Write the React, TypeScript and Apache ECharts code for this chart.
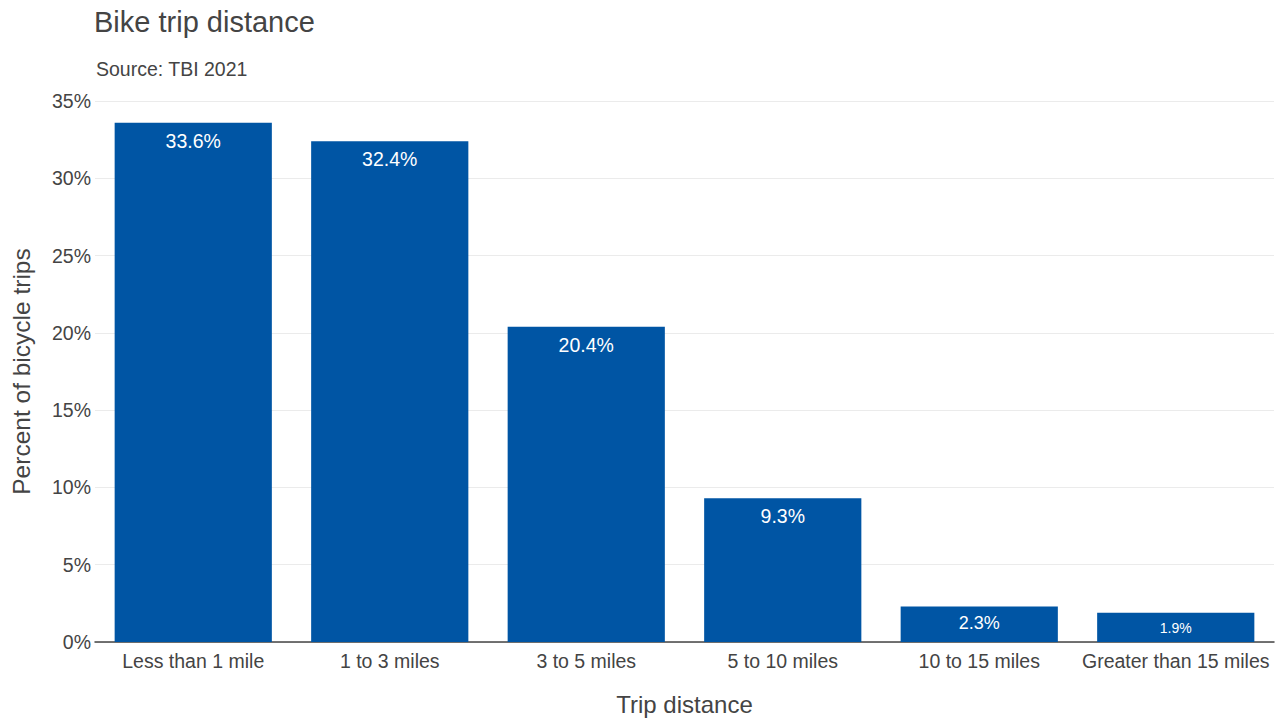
import React, { useEffect, useRef } from "react";
import * as echarts from "echarts";

const categories = [
  "Less than 1 mile",
  "1 to 3 miles",
  "3 to 5 miles",
  "5 to 10 miles",
  "10 to 15 miles",
  "Greater than 15 miles",
];
const shares = [33.6, 32.4, 20.4, 9.3, 2.3, 1.9];
const labelSizes = [19.5, 19.5, 19.5, 19.5, 18, 14];
const yTickMax = 35;
const yTickStep = 5;

const SANS = "'Liberation Sans', Arial, Helvetica, sans-serif";
const TXT = "#444";
const BAR = "#0055a4";

export default function App() {
  const ref = useRef<HTMLDivElement>(null);
  useEffect(() => {
    if (!ref.current) return;
    const chart = echarts.init(ref.current, undefined, { renderer: "svg" });
    chart.setOption({
      animation: false,
      backgroundColor: "#fff",
      title: [
        {
          text: "Bike trip distance",
          left: 89,
          top: 2,
          textStyle: { fontFamily: SANS, fontSize: 29, fontWeight: "normal", color: TXT },
        },
        {
          text: "Source: TBI 2021",
          left: 91,
          top: 54,
          textStyle: { fontFamily: SANS, fontSize: 19.5, fontWeight: "normal", color: TXT },
        },
      ],
      grid: {
        left: 95,
        right: 5,
        top: 101,
        bottom: 81,
        containLabel: false,
        outerBoundsMode: "none",
      },
      xAxis: {
        type: "category",
        data: categories,
        axisLine: { show: true, lineStyle: { color: TXT, width: 1.5 } },
        axisTick: { show: false },
        axisLabel: { color: TXT, fontFamily: SANS, fontSize: 19.5, margin: 9, interval: 0 },
        name: "Trip distance",
        nameLocation: "middle",
        nameGap: 50,
        nameTextStyle: { color: TXT, fontFamily: SANS, fontSize: 24 },
      },
      yAxis: {
        type: "value",
        min: 0,
        max: yTickMax,
        interval: yTickStep,
        axisLine: { show: false },
        axisTick: { show: false },
        splitLine: { lineStyle: { color: "#ebebeb", width: 1 } },
        axisLabel: {
          color: TXT,
          fontFamily: SANS,
          fontSize: 19.5,
          margin: 4,
          formatter: "{value}%",
        },
        name: "Percent of bicycle trips",
        nameLocation: "middle",
        nameGap: 61,
        nameRotate: 90,
        nameTextStyle: { color: TXT, fontFamily: SANS, fontSize: 24.5 },
      },
      series: [
        {
          type: "bar",
          barCategoryGap: "20%",
          data: shares.map((v, i) => ({
            value: v,
            label: { fontSize: labelSizes[i] },
          })),
          itemStyle: { color: BAR },
          label: {
            show: true,
            position: "insideTop",
            distance: 8,
            color: "#fff",
            fontFamily: SANS,
            formatter: (p: any) => `${Number(p.value).toFixed(1)}%`,
          },
        },
      ],
    });
    return () => chart.dispose();
  }, []);
  return (
    <div
      ref={ref}
      style={{ position: "fixed", left: 0, top: 0, width: 1279, height: 723 }}
    />
  );
}
